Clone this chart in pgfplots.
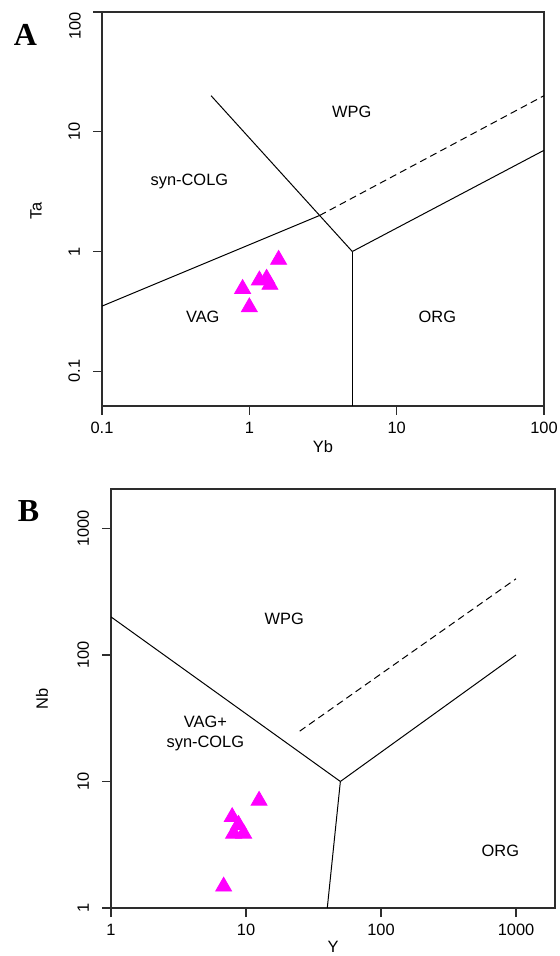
\documentclass[border=0pt]{standalone}
\usepackage{fontspec}
\setmainfont{Liberation Sans}
\newfontfamily\serifbold{Liberation Serif}
\usepackage{pgfplots}
\pgfplotsset{compat=1.18}
\definecolor{mag}{RGB}{255,0,255}
\definecolor{axgray}{RGB}{45,45,45}
\newcommand{\lbl}{\fontsize{8.2}{10}\selectfont}

\pgfplotstableread{
x y
1.58 0.855
1.17 0.575
1.31 0.594
1.38 0.528
0.90 0.488
1.00 0.343
}\dataA

\pgfplotstableread{
x y
12.5 7.06
7.9 5.24
8.1 3.88
9.6 3.88
8.8 4.55
6.83 1.48
}\dataB

\pgfplotsset{
  rstyle/.style={
    scale only axis,
    axis line style={axgray, line width=0.75pt},
    major tick style={axgray, line width=0.75pt},
    major tick length=4.5pt,
    tick align=outside,
    tick pos=left,
    minor tick style={draw=none},
    minor tick length=0pt,
    tick label style={font=\lbl},
    yticklabel style={rotate=90, anchor=south},
    yticklabel shift=3pt,
  },
  bnd/.style={black, line width=0.5pt, no marks},
  bnddash/.style={black, line width=0.5pt, no marks, dash pattern=on 3.5pt off 2.2pt},
  pts/.style={only marks, mark=triangle*, mark size=4.6pt, mark options={draw=mag, fill=mag}},
}

\begin{document}
\begin{tikzpicture}
\useasboundingbox (0,0) rectangle (280pt,478pt);

% Panel A
\begin{loglogaxis}[rstyle, at={(51pt,275pt)}, anchor=south west,
  width=221pt, height=197pt,
  xmin=0.1, xmax=100, ymin=0.0513, ymax=100,
  xtick={0.1,1,10,100}, xticklabels={0.1,1,10,100},
  ytick={0.1,1,10,100}, yticklabels={0.1,1,10,{}}]
\addplot[bnd] coordinates {(0.1,0.35) (3,2)};
\addplot[bnddash] coordinates {(3,2) (100,20)};
\addplot[bnd] coordinates {(0.55,20) (3,2) (5,1)};
\addplot[bnd] coordinates {(5,1) (5,0.0513)};
\addplot[bnd] coordinates {(5,1) (100,7)};
\addplot[pts] table[x=x,y=y] {\dataA};
\node[font=\lbl] at (axis cs:4.96,14.6) {WPG};
\node[font=\lbl] at (axis cs:0.392,3.85) {syn-COLG};
\node[font=\lbl] at (axis cs:0.483,0.286) {VAG};
\node[font=\lbl] at (axis cs:18.9,0.286) {ORG};
\end{loglogaxis}
% top tick label of panel A, kept inside the page as in the reference
\node[font=\lbl, rotate=90] at (37.5pt,465pt) {100};

% Panel B
\begin{loglogaxis}[rstyle, at={(55.5pt,24pt)}, anchor=south west,
  width=222pt, height=209.5pt,
  xmin=1, xmax=1945, ymin=1, ymax=2051,
  xtick={1,10,100,1000}, xticklabels={1,10,100,1000},
  ytick={1,10,100,1000}, yticklabels={1,10,100,1000}]
\addplot[bnd] coordinates {(1,200) (50,10)};
\addplot[bnd] coordinates {(50,10) (1000,100)};
\addplot[bnd] coordinates {(50,10) (40,1)};
\addplot[bnddash] coordinates {(25,25) (1000,400)};
\addplot[pts] table[x=x,y=y] {\dataB};
\node[font=\lbl] at (axis cs:19.2,192) {WPG};
\node[font=\lbl] at (axis cs:766,2.84) {ORG};
\node[font=\lbl, align=center] at (axis cs:5.0,24) {VAG+\\syn-COLG};
\end{loglogaxis}

% axis titles
\node[font=\lbl, rotate=90] at (18pt,372.5pt) {Ta};
\node[font=\lbl] at (161.5pt,254.5pt) {Yb};
\node[font=\lbl, rotate=90] at (21pt,128.5pt) {Nb};
\node[font=\lbl] at (166.5pt,4.5pt) {Y};

% panel letters
\node[font=\fontsize{16}{18}\selectfont\serifbold\bfseries] at (12.75pt,460.5pt) {A};
\node[font=\fontsize{16}{18}\selectfont\serifbold\bfseries] at (14.25pt,222.25pt) {B};
\end{tikzpicture}
\end{document}
